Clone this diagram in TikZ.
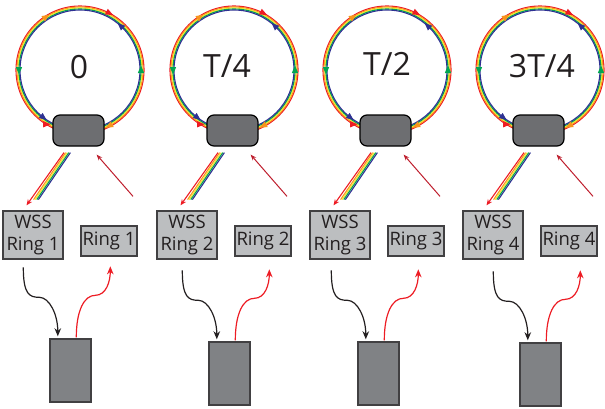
\documentclass[tikz,border=0pt]{standalone}
\usepackage{fontspec}
\setmainfont{Open Sans}
\usetikzlibrary{arrows.meta,calc}
\definecolor{rred}{HTML}{ED1C24}
\definecolor{rorange}{HTML}{F7941D}
\definecolor{ryellow}{HTML}{F9E52E}
\definecolor{rgreen}{HTML}{00A651}
\definecolor{rblue}{HTML}{2E3192}
\definecolor{dred}{HTML}{BE1E2D}
\definecolor{boxdark}{HTML}{6D6E71}
\definecolor{boxmid}{HTML}{808285}
\definecolor{boxlight}{HTML}{BCBEC0}
\definecolor{edgegray}{HTML}{414042}
\definecolor{ink}{HTML}{231F20}
\tikzset{
 strand/.style={line width=1.1pt},
 ringbox/.style={draw=black, line width=1.2pt, fill=boxdark, rounded corners=7pt, minimum width=51pt, minimum height=31pt, inner sep=0pt},
 wssbox/.style={draw=edgegray, line width=1.3pt, fill=boxlight, minimum width=60pt, minimum height=48pt, inner sep=0pt, align=center, text=ink, font=\fontsize{18.5}{22}\selectfont},
 ringlbl/.style={draw=edgegray, line width=1.3pt, fill=boxlight, minimum width=56pt, minimum height=30pt, inner sep=0pt, text=ink, font=\fontsize{18.5}{22}\selectfont},
 lowbox/.style={draw=edgegray, line width=1.4pt, fill=boxmid, minimum width=41pt, minimum height=63pt, inner sep=0pt},
 biglabel/.style={font=\fontsize{32}{38}\selectfont, text=ink, inner sep=0pt},
 rainbow/.style={line width=1.1pt},
 rainbowtip/.style={rred, line width=1.1pt, -{Stealth[length=6pt,width=5pt]}},
 retarrow/.style={dred, line width=1pt, -{Stealth[length=6pt,width=4.5pt]}},
 blackcurve/.style={ink, line width=1.2pt, -{Stealth[length=8pt,width=6.5pt,inset=2.5pt]}},
 redcurve/.style={rred, line width=1.2pt, -{Stealth[length=8pt,width=6.5pt,inset=2.5pt]}},
}
\newcommand\ringmark[5]{\begin{scope}[shift={($(#1)+({#3*cos(#4)},{-#3*sin(#4)})$)},rotate=#5]\fill[#2] (4.5,0) -- (-3,3.2) -- (-3,-3.2) -- cycle;\end{scope}}
\newcommand\drawcolumn[7]{%
  \coordinate (c#3) at (80+#1,70);
  \foreach \cc/\rr in {rred/64,rorange/63,ryellow/62,rgreen/61,rblue/60}
    \draw[strand,\cc] (c#3) circle[radius=\rr];
  \ringmark{c#3}{rred}{64}{63}{-27}
  \ringmark{c#3}{rorange}{63}{123}{33}
  \ringmark{c#3}{rblue}{60}{47}{137}
  \ringmark{c#3}{rgreen}{61}{180}{270}
  \ringmark{c#3}{rgreen}{61}{0}{90}
  \ringmark{c#3}{rblue}{60}{232}{322}
  \ringmark{c#3}{rred}{64}{238}{0}
  \ringmark{c#3}{rorange}{63}{298}{208}
  \node[ringbox] (rb#3) at (78.5+#1,130.5) {};
  \node[biglabel,anchor=base] (lab#3) at (#4,#5) {#2};
  \node[wssbox] (wss#3) at (33+#1,235) {WSS\\Ring #3};
  \node[ringlbl] (rg#3) at (109+#1,241) {Ring #3};
  \node[lowbox] (lb#3) at (#6+20.5,#7+31.5) {};
  \coordinate (rs#3) at ($(rb#3.south)+(-14.5,6)$);
  \coordinate (rt#3) at ($(wss#3.north)+(-6.5,-5)$);
  \foreach \k/\cc in {1/rorange,2/ryellow,3/rgreen,4/rblue}
    \draw[rainbow,\cc] ($(rs#3)+(1.6*\k,0)$) -- ($(rs#3)+(1.6*\k-32,47)$);
  \draw[rainbowtip] (rs#3) -- (rt#3);
  \coordinate (ra#3) at ($(rg#3.north)+(24,-29)$);
  \draw[retarrow] (ra#3) -- ($(rb#3.south east)+(-8,8)$);
  \coordinate (bs#3) at ($(lb#3.north west)+(-26,-71)$);
  \draw[blackcurve] (bs#3) .. controls +(0,27) and +(-10,0) .. ($(lb#3.north west)+(-10,-41)$) .. controls +(10,0) and +(0,-22) .. ($(lb#3.north west)+(8.5,-2)$);
  \coordinate (re#3) at ($(lb#3.north west)+(61,-72)$);
  \draw[redcurve] ($(lb#3.north west)+(27,-1)$) .. controls +(0,-27) and +(-11,0) .. ($(lb#3.north west)+(46,-43)$) .. controls +(11,0) and +(0,15) .. (re#3);
}
\begin{document}
\begin{tikzpicture}[x=1pt,y=-1pt]
\useasboundingbox (0,0) rectangle (605,408);
\drawcolumn{0}{0}{1}{79}{78}{50}{339}
\drawcolumn{154}{T/4}{2}{227}{77}{209}{342}
\drawcolumn{307}{T/2}{3}{387}{75}{358}{342}
\drawcolumn{460}{3T/4}{4}{542}{77}{520}{343}
\end{tikzpicture}
\end{document}
